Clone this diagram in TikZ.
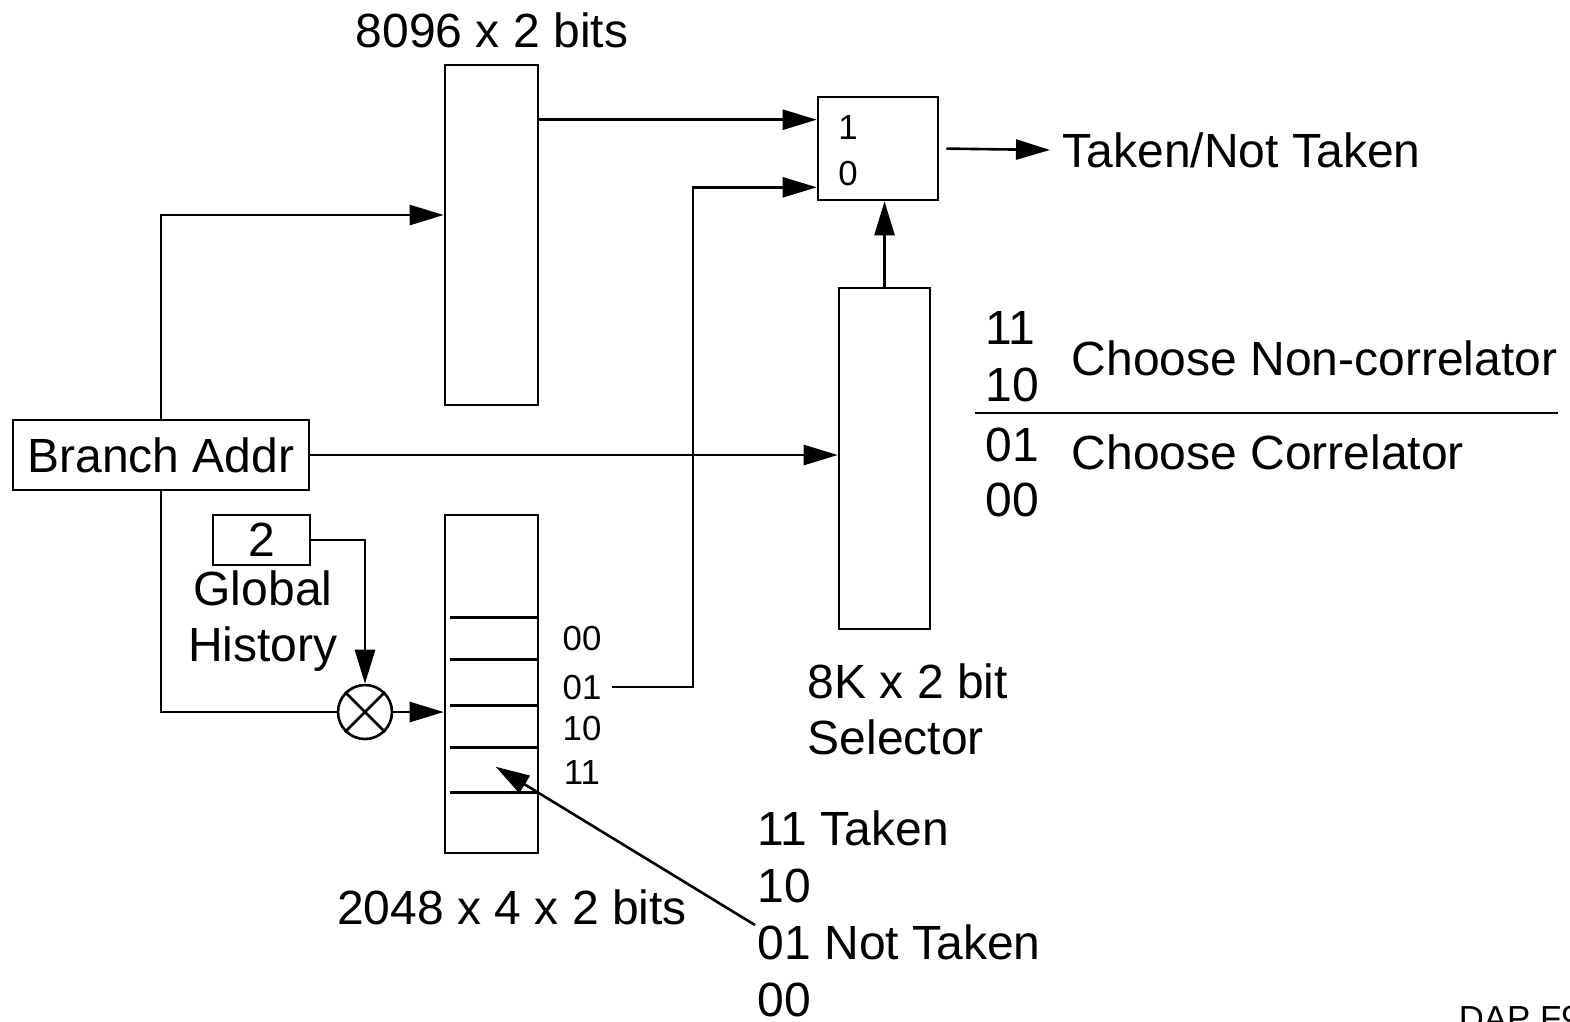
\documentclass[tikz,border=0pt]{standalone}
\usepackage{fontspec}
\setmainfont{Liberation Sans}
\usetikzlibrary{arrows.meta,positioning,calc}

\begin{document}
\begin{tikzpicture}[
  x=0.25pt, y=-0.25pt,
  font=\fontsize{12}{14}\selectfont,
  tbl/.style = {draw, line width=0.65pt, inner sep=0pt, minimum width=23.25pt},
  blk/.style = {draw, line width=0.65pt, inner sep=0pt},
  ln/.style  = {line width=0.65pt},
  arr/.style = {ln, -{Triangle[length=8.5pt, width=5pt]}},
  lbl/.style = {inner sep=0pt, anchor=west},
  sml/.style = {font=\fontsize{8.7}{10}\selectfont, inner sep=0pt},
]
\useasboundingbox (0,0) rectangle (1570,1021);

% --- the three tables and the mux ----------------------------------------------------------
\node[tbl, minimum height=85pt] (pht) at (491.5,235) {};
\node[tbl, minimum height=84.5pt] (bht) at (491.5,684) {};
\node[tbl, minimum width=22.75pt, minimum height=85.25pt] (sel) at (884.5,458.5) {};
\node[blk, minimum width=30pt, minimum height=25.75pt] (mux) at (878,148.5) {};
\node[sml] (m1) at (848,128) {1};
\node[sml] (m0) at (848,173) {0};

\foreach \dy in {104,146,192,234,279}
  \draw[ln] ($(bht.north west)+(6,\dy)$) -- ($(bht.north east)+(0,\dy)$);

\node[sml] (r00) at (582,638) {00};
\node[sml] (r01) at (582,687) {01};
\node[sml] (r10) at (582,728) {10};
\node[sml] (r11) at (582,772) {11};

% --- address, history and the xor ------------------------------------------------------------
\node[blk, minimum width=74pt, minimum height=17.5pt] (ba) at (161,455) {Branch Addr};
\node[blk, minimum width=24.25pt, minimum height=12.5pt] (gh) at (261.5,540) {2};
\node[align=center, inner sep=0pt] (ghl) at (263,621) {Global\\History};
\node[circle, draw, ln, minimum size=13.5pt, inner sep=0pt] (xor) at (365,712) {};
\draw[ln] (xor.north west) -- (xor.south east) (xor.north east) -- (xor.south west);

% --- captions ------------------------------------------------------------------------------------
\node (phtcap) at (492,30) {8096 x 2 bits};
\node (bhtcap) at (512,907) {2048 x 4 x 2 bits};
\node[lbl, align=left] (selcap) at (807,709) {8K x 2 bit\\Selector};
\node[lbl, inner sep=3pt] (tnt) at (1050,150) {Taken/Not Taken};

% --- selector legend ---------------------------------------------------------------------------
\node[lbl] (s11) at (985,328) {11};
\node[lbl] (s10) at (985,385) {10};
\node[lbl] (s01) at (985,445) {01};
\node[lbl] (s00) at (985,500) {00};
\node[lbl] (snc) at (1071,358) {Choose Non-correlator};
\node[lbl] (sc)  at (1071,452) {Choose Correlator};
\draw[ln] (975,413) -- (1558,413);

% --- counter legend ----------------------------------------------------------------------------
\node[lbl] (c11) at (757,828) {11 Taken};
\node[lbl] (c10) at (757,886) {10};
\node[lbl] (c01) at (757,942) {01 Not Taken};
\node[lbl] (c00) at (757,1000) {00};
\node[sml, anchor=base west] (tag) at (1458,1030) {DAP F9};

% --- wires -----------------------------------------------------------------------------------------
\coordinate (in1) at ($(mux.north west)+(0,24)$);
\coordinate (in0) at ($(mux.south west)+(0,-14)$);
\coordinate (ptr) at (755,925);
\coordinate (cell) at ($(bht.north west)+(52,253)$);

\draw[arr] (ba.north) |- ($(pht.west)+(0,-20)$);
\draw[arr] (ba.east) -- (sel.west |- ba.east);
\draw[ln]  (ba.south) |- (xor.west);
\draw[arr] (xor.east) -- (bht.west |- xor.east);
\draw[arr] (gh.east) -| (xor.north);
\draw[arr] (pht.east |- in1) -- (in1);
\draw[arr, shorten <=2.5pt] (r01.east) -- ++(91,0) |- (in0);
\draw[arr] (sel.north) -- (sel.north |- mux.south);
\draw[arr, shorten <=1.75pt] (mux.east) -- (tnt.west);
\draw[arr] (ptr) -- (cell);

\end{tikzpicture}
\end{document}
